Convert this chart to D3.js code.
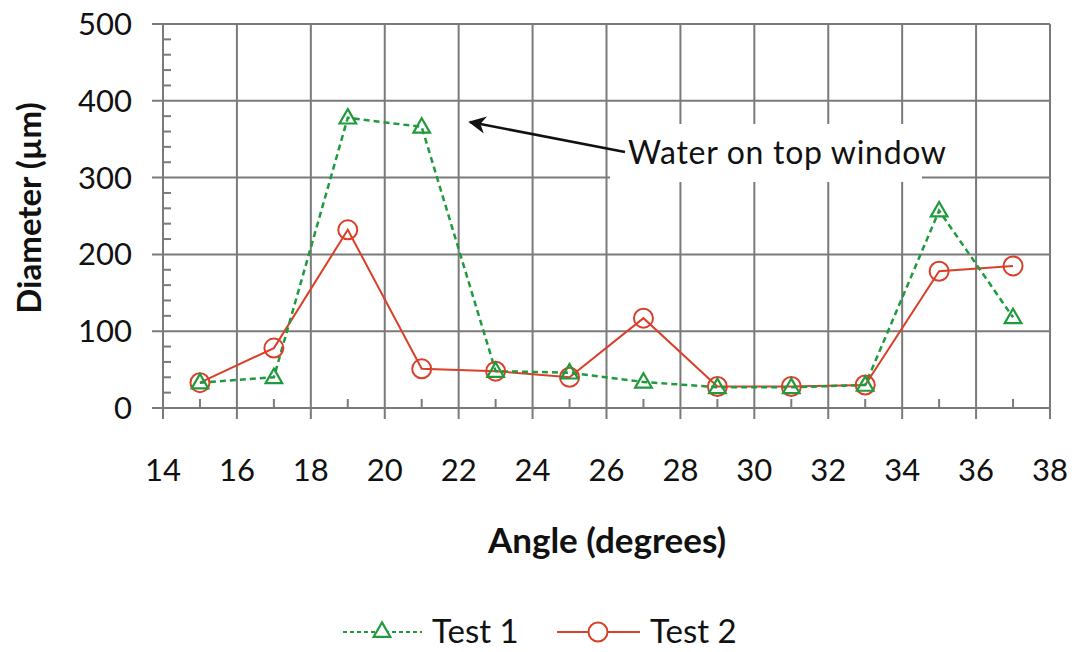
<!DOCTYPE html>
<html><head><meta charset="utf-8">
<script src="https://cdn.jsdelivr.net/npm/d3@7"></script>
<style>body{margin:0;background:#fff;}svg{display:block;font-family:Lato,"Open Sans",sans-serif;}</style>
</head><body>
<script>
const angles = [15,17,19,21,23,25,27,29,31,33,35,37];
const test1 = [33,40,378,366,48,46,34,27,27,30,257,118];
const test2 = [33,78,232,51,48,40,117,28,28,30,178,185];
const xTicks = [14,16,18,20,22,24,26,28,30,32,34,36,38];
const yTicks = [0,100,200,300,400,500];
const seriesNames = ["Test 1","Test 2"];
const annotation = "Water on top window";

const W=1078,H=652;
const svg=d3.select("body").append("svg").attr("width",W).attr("height",H);
const x=d3.scaleLinear().domain([14,38]).range([163,1050]);
const y=d3.scaleLinear().domain([0,500]).range([408,24]);
const grid="#7a7a7a";
const g=svg.append("g");

g.selectAll(".vg").data(xTicks).enter().append("line")
 .attr("x1",d=>x(d)).attr("x2",d=>x(d)).attr("y1",y(500)).attr("y2",y(0)+11)
 .attr("stroke",grid).attr("stroke-width",2);
g.selectAll(".hg").data(yTicks).enter().append("line")
 .attr("x1",x(14)-11).attr("x2",x(38)).attr("y1",d=>y(d)).attr("y2",d=>y(d))
 .attr("stroke",grid).attr("stroke-width",2);
const minorY=d3.range(20,500,20).filter(v=>v%100!==0);
g.selectAll(".my").data(minorY).enter().append("line")
 .attr("x1",x(14)).attr("x2",x(14)+8).attr("y1",d=>y(d)).attr("y2",d=>y(d))
 .attr("stroke",grid).attr("stroke-width",2);
g.selectAll(".mx").data(angles).enter().append("line")
 .attr("x1",d=>x(d)).attr("x2",d=>x(d)).attr("y1",y(0)).attr("y2",y(0)-9)
 .attr("stroke",grid).attr("stroke-width",2);

// annotation white box
svg.append("rect").attr("x",610).attr("y",124).attr("width",312).attr("height",58).attr("fill","#fff");
svg.append("text").attr("x",628).attr("y",164).attr("font-size",32).attr("fill","#111").attr("textLength",318).text(annotation);
svg.append("defs").append("marker").attr("id","ah").attr("viewBox","0 0 10 10").attr("refX",9).attr("refY",5)
 .attr("markerWidth",7).attr("markerHeight",7).attr("markerUnits","strokeWidth").attr("orient","auto")
 .append("path").attr("d","M0,0 L10,5 L0,10 L3,5 Z").attr("fill","#111");
svg.append("line").attr("x1",625).attr("y1",152).attr("x2",470).attr("y2",122)
 .attr("stroke","#111").attr("stroke-width",2.5).attr("marker-end","url(#ah)");

svg.selectAll(".xl").data(xTicks).enter().append("text")
 .attr("x",d=>x(d)).attr("y",481).attr("text-anchor","middle").attr("font-size",31).attr("fill","#111").text(d=>d);
svg.selectAll(".yl").data(yTicks).enter().append("text")
 .attr("x",132).attr("y",d=>y(d)+11).attr("text-anchor","end").attr("font-size",31).attr("fill","#111").text(d=>d);
svg.append("text").attr("x",607).attr("y",553).attr("text-anchor","middle").attr("font-size",35).attr("font-weight","bold").attr("fill","#111").text("Angle (degrees)");
svg.append("text").attr("transform","translate(41,208) rotate(-90)").attr("text-anchor","middle").attr("font-size",33).attr("font-weight","bold").attr("fill","#111").text("Diameter (µm)");

const green="#1f9a3c", red="#d9402a";
const line=d3.line().x(d=>x(d[0])).y(d=>y(d[1]));
const d1=angles.map((a,i)=>[a,test1[i]]);
const d2=angles.map((a,i)=>[a,test2[i]]);
const tri=d3.symbol().type(d3.symbolTriangle).size(120);

svg.append("path").datum(d2).attr("d",line).attr("fill","none").attr("stroke",red).attr("stroke-width",2);
svg.append("path").datum(d1).attr("d",line).attr("fill","none").attr("stroke",green).attr("stroke-width",2.5).attr("stroke-dasharray","6,4");
svg.selectAll(".c").data(d2).enter().append("circle").attr("cx",d=>x(d[0])).attr("cy",d=>y(d[1])).attr("r",9.5)
 .attr("fill","none").attr("stroke",red).attr("stroke-width",2);
svg.selectAll(".t").data(d1).enter().append("path").attr("d",tri)
 .attr("transform",d=>`translate(${x(d[0])},${y(d[1])+1})`).attr("fill","none").attr("stroke",green).attr("stroke-width",2.2);

const lg=svg.append("g");
lg.append("line").attr("x1",343).attr("x2",422).attr("y1",632).attr("y2",632).attr("stroke",green).attr("stroke-width",2).attr("stroke-dasharray","4,3");
lg.append("path").attr("d",tri).attr("transform","translate(382,632)").attr("fill","#fff").attr("stroke",green).attr("stroke-width",2.2);
lg.append("text").attr("x",432).attr("y",643).attr("font-size",33).attr("fill","#111").text(seriesNames[0]);
lg.append("line").attr("x1",557).attr("x2",640).attr("y1",632).attr("y2",632).attr("stroke",red).attr("stroke-width",2);
lg.append("circle").attr("cx",598).attr("cy",632).attr("r",9.5).attr("fill","#fff").attr("stroke",red).attr("stroke-width",2);
lg.append("text").attr("x",650).attr("y",643).attr("font-size",33).attr("fill","#111").text(seriesNames[1]);
</script>
</body></html>
